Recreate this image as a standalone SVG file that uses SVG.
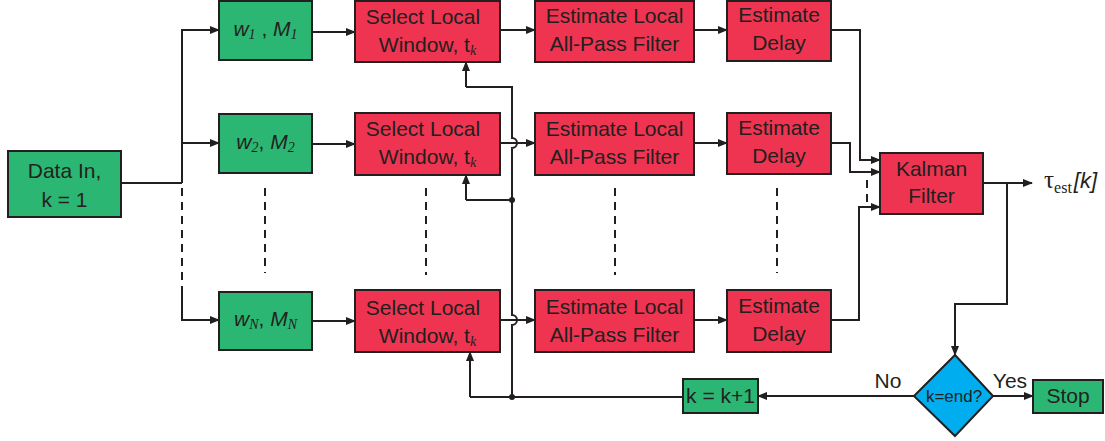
<svg xmlns="http://www.w3.org/2000/svg" width="1105" height="441" viewBox="0 0 1105 441">
  <style>
    .box { stroke: #231f20; stroke-width: 2; }
    .green { fill: #2bb673; }
    .red { fill: #ee3450; }
    .blue { fill: #00aeef; }
    .t { font-family: "Liberation Sans", Arial, sans-serif; font-size: 21px; fill: #231f20; text-anchor: middle; }
    .it { font-style: italic; }
    .sub { font-family: "Liberation Serif", "Times New Roman", serif; font-style: italic; font-size: 14px; }
    .wire { fill: none; stroke: #231f20; stroke-width: 2; }
    .arrow { fill: none; stroke: #231f20; stroke-width: 2; marker-end: url(#head); }
    .dash { fill: none; stroke: #231f20; stroke-width: 2; stroke-dasharray: 8 6; }
    .dot { fill: #231f20; }
  </style>
  <defs>
    <marker id="head" markerWidth="10" markerHeight="8" refX="9" refY="4" orient="auto" markerUnits="userSpaceOnUse">
      <path d="M0,0 L10,4 L0,8 Z" fill="#231f20"/>
    </marker>
  </defs>
  <rect width="1105" height="441" fill="#ffffff"/>

  <!-- connectors -->
  <g id="connectors">
    <!-- input fan-out -->
    <path class="wire" d="M121,183 H182"/>
    <path class="arrow" d="M182,183 V30 H219"/>
    <path class="arrow" d="M182,143 H219"/>
    <path class="dash" d="M182,188 V287"/>
    <path class="arrow" d="M182,287 V320 H219"/>

    <!-- window parameters to window selection -->
    <path class="arrow" d="M312,32 H355"/>
    <path class="arrow" d="M312,144 H355"/>
    <path class="arrow" d="M312,321 H355"/>

    <!-- window selection to all-pass estimation -->
    <path class="arrow" d="M500,30 H535"/>
    <path class="arrow" d="M500,143 H535"/>
    <path class="arrow" d="M500,320 H535"/>

    <!-- all-pass estimation to delay estimation -->
    <path class="arrow" d="M694,30 H727"/>
    <path class="arrow" d="M694,143 H727"/>
    <path class="arrow" d="M694,320 H727"/>

    <!-- delays into the Kalman filter -->
    <path class="arrow" d="M831,30 H860 V160 H880"/>
    <path class="arrow" d="M831,143 H850 V172 H880"/>
    <path class="arrow" d="M831,320 H859 V207 H880"/>
    <path class="dash" d="M867,180 V205"/>

    <!-- Kalman output -->
    <path class="arrow" d="M983,183 H1032"/>
    <path class="arrow" d="M1007,183 V304 H955 V355"/>

    <!-- decision branches -->
    <path class="arrow" d="M914,396 H758"/>
    <path class="arrow" d="M993,396 H1033"/>

    <!-- feedback of k to every window selection, with line hops -->
    <path class="wire" d="M683,397 H470"/>
    <path class="arrow" d="M470,397 V352"/>
    <path class="wire" d="M512,397 V325 A5,5 0 0 0 512,315 V148 A5,5 0 0 0 512,138 V87 H466"/>
    <path class="arrow" d="M466,87 V62"/>
    <path class="wire" d="M512,200 H466"/>
    <path class="arrow" d="M466,200 V175"/>
    <circle class="dot" cx="512" cy="397" r="3"/>
    <circle class="dot" cx="512" cy="200" r="3"/>

    <!-- elided channels -->
    <path class="dash" d="M265,188 V273"/>
    <path class="dash" d="M426,188 V275"/>
    <path class="dash" d="M615,188 V275"/>
    <path class="dash" d="M777,188 V273"/>
  </g>

  <g id="data-in">
    <rect class="box green" x="8" y="151" width="113" height="66"/>
    <text class="t" x="64.5" y="178">Data In,</text>
    <text class="t" x="64.5" y="207">k = 1</text>
  </g>

  <g id="params-1">
    <rect class="box green" x="219" y="1" width="93" height="59"/>
    <text class="t" x="265.5" y="36"><tspan class="it">w</tspan><tspan class="sub" dy="3">1</tspan><tspan dy="-3"> , </tspan><tspan class="it">M</tspan><tspan class="sub" dy="3">1</tspan></text>
  </g>
  <g id="params-2">
    <rect class="box green" x="219" y="114" width="93" height="59"/>
    <text class="t" x="265.5" y="149"><tspan class="it">w</tspan><tspan class="sub" dy="3">2</tspan><tspan dy="-3">, </tspan><tspan class="it">M</tspan><tspan class="sub" dy="3">2</tspan></text>
  </g>
  <g id="params-n">
    <rect class="box green" x="219" y="292" width="93" height="58"/>
    <text class="t" x="265.5" y="326"><tspan class="it">w</tspan><tspan class="sub" dy="3">N</tspan><tspan dy="-3">, </tspan><tspan class="it">M</tspan><tspan class="sub" dy="3">N</tspan></text>
  </g>

  <g id="select-1">
    <rect class="box red" x="355" y="1" width="145" height="61"/>
    <text class="t" x="423" y="24">Select Local</text>
    <text class="t" x="427.5" y="52">Window, t<tspan class="sub" dy="3">k</tspan></text>
  </g>
  <g id="select-2">
    <rect class="box red" x="355" y="113" width="145" height="62"/>
    <text class="t" x="423" y="136">Select Local</text>
    <text class="t" x="427.5" y="164">Window, t<tspan class="sub" dy="3">k</tspan></text>
  </g>
  <g id="select-n">
    <rect class="box red" x="355" y="290" width="145" height="62"/>
    <text class="t" x="423" y="315">Select Local</text>
    <text class="t" x="427.5" y="343">Window, t<tspan class="sub" dy="3">k</tspan></text>
  </g>

  <g id="allpass-1">
    <rect class="box red" x="535" y="1" width="159" height="61"/>
    <text class="t" x="614.5" y="23">Estimate Local</text>
    <text class="t" x="614.5" y="51">All-Pass Filter</text>
  </g>
  <g id="allpass-2">
    <rect class="box red" x="535" y="113" width="159" height="62"/>
    <text class="t" x="614.5" y="136">Estimate Local</text>
    <text class="t" x="614.5" y="164">All-Pass Filter</text>
  </g>
  <g id="allpass-n">
    <rect class="box red" x="535" y="290" width="159" height="62"/>
    <text class="t" x="614.5" y="314">Estimate Local</text>
    <text class="t" x="614.5" y="342">All-Pass Filter</text>
  </g>

  <g id="delay-1">
    <rect class="box red" x="727" y="1" width="104" height="60"/>
    <text class="t" x="779" y="22">Estimate</text>
    <text class="t" x="779" y="50">Delay</text>
  </g>
  <g id="delay-2">
    <rect class="box red" x="727" y="113" width="104" height="61"/>
    <text class="t" x="779" y="135">Estimate</text>
    <text class="t" x="779" y="163">Delay</text>
  </g>
  <g id="delay-n">
    <rect class="box red" x="727" y="290" width="104" height="62"/>
    <text class="t" x="779" y="313">Estimate</text>
    <text class="t" x="779" y="341">Delay</text>
  </g>

  <g id="kalman">
    <rect class="box red" x="880" y="153" width="103" height="61"/>
    <text class="t" x="931.5" y="176">Kalman</text>
    <text class="t" x="931.5" y="203">Filter</text>
  </g>

  <g id="estimate-out">
    <text x="1044" y="188" font-family="Liberation Serif, serif" font-size="25" fill="#231f20">τ<tspan font-size="16" dy="5">est</tspan><tspan dx="2" dy="-5" font-family="Liberation Sans, sans-serif" font-style="italic" font-size="22">[k]</tspan></text>
  </g>

  <g id="decision">
    <polygon class="box blue" points="955,355 993,396 955,436 914,396"/>
    <text class="t" x="954" y="402" style="font-size:17px">k=end?</text>
    <text class="t" x="888" y="388">No</text>
    <text class="t" x="1010" y="388">Yes</text>
  </g>

  <g id="increment">
    <rect class="box green" x="683" y="379" width="75" height="34"/>
    <text class="t" x="720.5" y="403">k = k+1</text>
  </g>

  <g id="stop">
    <rect class="box green" x="1033" y="380" width="70" height="33"/>
    <text class="t" x="1068" y="403">Stop</text>
  </g>
</svg>
